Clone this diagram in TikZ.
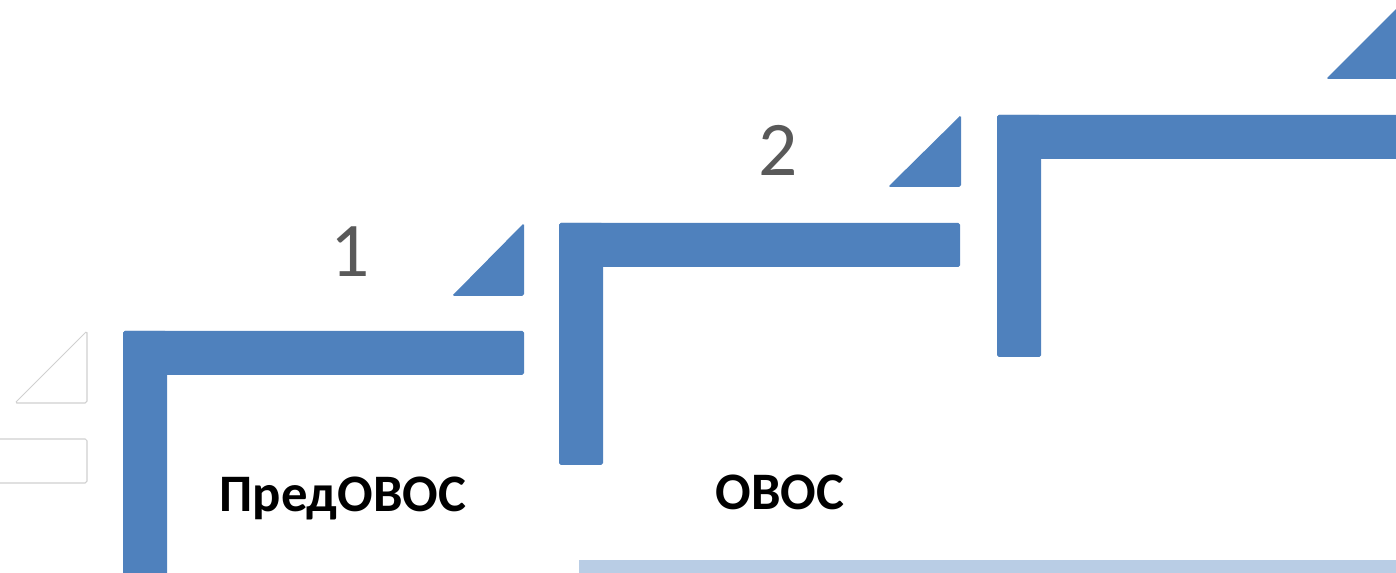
\documentclass[tikz,border=0pt]{standalone}
\usepackage{fontspec}
\setmainfont{Carlito}
\usetikzlibrary{positioning}

\definecolor{stepblue}{HTML}{4F81BD}
\definecolor{lightbar}{HTML}{B9CDE5}
\definecolor{digitgrey}{HTML}{595959}
\definecolor{ghostline}{HTML}{D0D0D0}

\tikzset{
  stepbar/.style={fill=stepblue, draw=none, rounded corners=1pt},
  ghostbar/.style={fill=white, draw=ghostline, line width=0.6pt, rounded corners=1pt},
  stepnum/.style={text=digitgrey, font=\fontsize{44}{44}\selectfont, inner sep=0pt},
  steplabel/.style={text=black, font=\fontsize{30}{30}\selectfont\bfseries, inner sep=0pt}
}

\begin{document}
\begin{tikzpicture}[x=0.02cm, y=-0.02cm]
\useasboundingbox (0,0) rectangle (1396,573);
\clip (0,0) rectangle (1396,573);

% ghost step on the left
\draw[ghostbar] (-320,439) rectangle (87,483);
\draw[ghostbar] (15,403) -- (87,403) -- (87,331) -- cycle;

% step 1
\fill[stepbar] (123,331) rectangle (524,375);
\fill[stepbar] (123,331) rectangle (167,590);
\fill[stepbar] (452,296) -- (524,296) -- (524,223) -- cycle;
\node[stepnum] (num1) at (350,252) {1};
\node[steplabel] (lab1) at (343,498) {ПредОВОС};

% step 2
\fill[stepbar] (559,223) rectangle (960,267);
\fill[stepbar] (559,223) rectangle (603,465);
\fill[stepbar] (888,187) -- (961,187) -- (961,115) -- cycle;
\node[stepnum] (num2) at (778,150) {2};
\node[steplabel] (lab2) at (780,492) {ОВОС};

% step 3
\fill[stepbar] (997,115) rectangle (1420,159);
\fill[stepbar] (997,115) rectangle (1041,357);
\fill[stepbar] (1326,79) -- (1420,79) -- (1420,-15) -- cycle;

% bottom bar
\fill[lightbar] (579,560) rectangle (1420,590);

\end{tikzpicture}
\end{document}
